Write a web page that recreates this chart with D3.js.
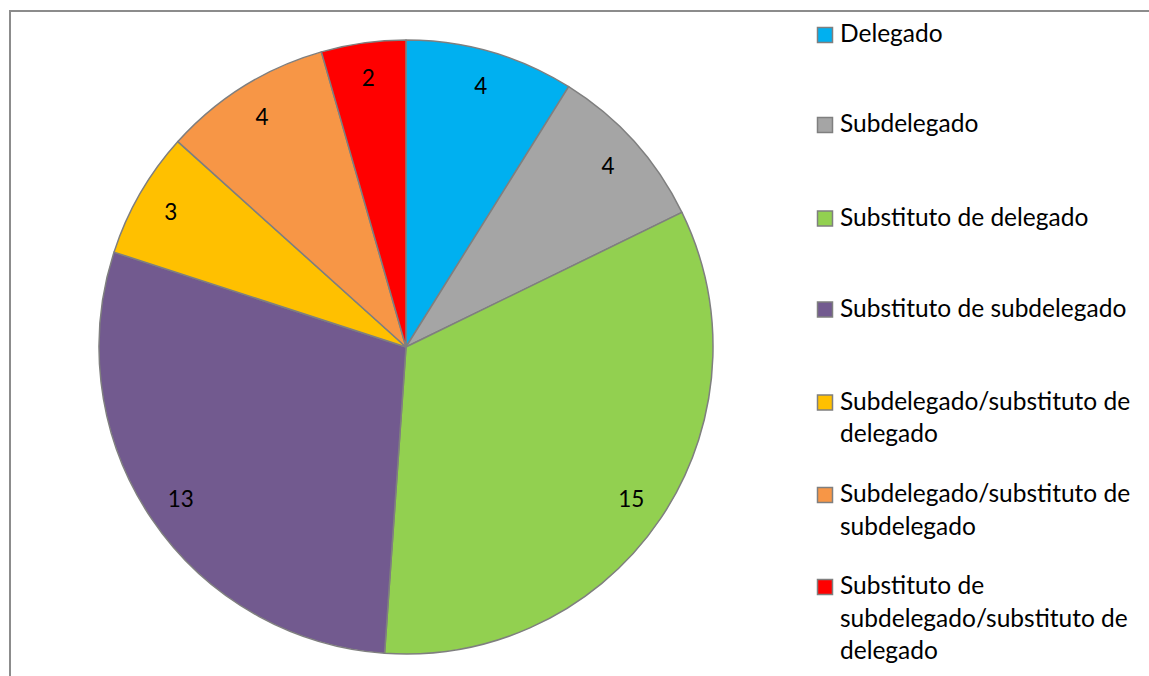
<!DOCTYPE html>
<html><head><meta charset="utf-8">
<script src="https://cdn.jsdelivr.net/npm/d3@7"></script>
<style>html,body{margin:0;padding:0;background:#fff;}svg{display:block;}</style>
</head><body>
<svg id="c" width="1149" height="676"></svg>
<script>
const categories = ["Delegado","Subdelegado","Substituto de delegado","Substituto de subdelegado","Subdelegado/substituto de delegado","Subdelegado/substituto de subdelegado","Substituto de subdelegado/substituto de delegado"];
const values = [4,4,15,13,3,4,2];
const colors = ["#00B0F0","#A5A5A5","#92D050","#725A8F","#FFC000","#F79646","#FF0000"];
const legendLines = [["Delegado"],["Subdelegado"],["Substituto de delegado"],["Substituto de subdelegado"],["Subdelegado/substituto de","delegado"],["Subdelegado/substituto de","subdelegado"],["Substituto de","subdelegado/substituto de","delegado"]];

const svg = d3.select("#c");
const font = "Lato, 'Open Sans', sans-serif";
// frame
svg.append("path").attr("d","M10,676 L10,11 L1149,11").attr("fill","none").attr("stroke","#8c8c8c").attr("stroke-width",2);

const cx = 406, cy = 347, r = 307;
const pie = d3.pie().sort(null).value(d=>d);
const arcs = pie(values);
const arc = d3.arc().innerRadius(0).outerRadius(r);
const labelArc = d3.arc().innerRadius(r*0.885).outerRadius(r*0.885);
const g = svg.append("g").attr("transform",`translate(${cx},${cy})`);
g.selectAll("path").data(arcs).join("path")
  .attr("d",arc).attr("fill",(d,i)=>colors[i])
  .attr("stroke","#7f7f7f").attr("stroke-width",1.5).attr("stroke-linejoin","round");
g.selectAll("text").data(arcs).join("text")
  .attr("transform",d=>{const c=labelArc.centroid(d);return `translate(${c[0]},${c[1]})`;})
  .attr("text-anchor","middle").attr("dominant-baseline","central")
  .style("font-family",font).style("font-size","22.5px").attr("fill","#000")
  .text(d=>d.value);

// legend
const rowY = [35,125,218.5,309.5,402.5,495,587];
const lg = svg.append("g");
legendLines.forEach((lines,i)=>{
  lg.append("rect").attr("x",817.5).attr("y",rowY[i]-7.5).attr("width",15).attr("height",15)
    .attr("fill",colors[i]).attr("stroke","#7f7f7f").attr("stroke-width",1.5);
  const t = lg.append("text").attr("x",840).attr("y",rowY[i]+7)
    .style("font-family",font).style("font-size","24.5px").attr("fill","#000");
  lines.forEach((l,j)=>t.append("tspan").attr("x",840).attr("dy",j===0?0:32.7).text(l));
});
</script>
</body></html>
